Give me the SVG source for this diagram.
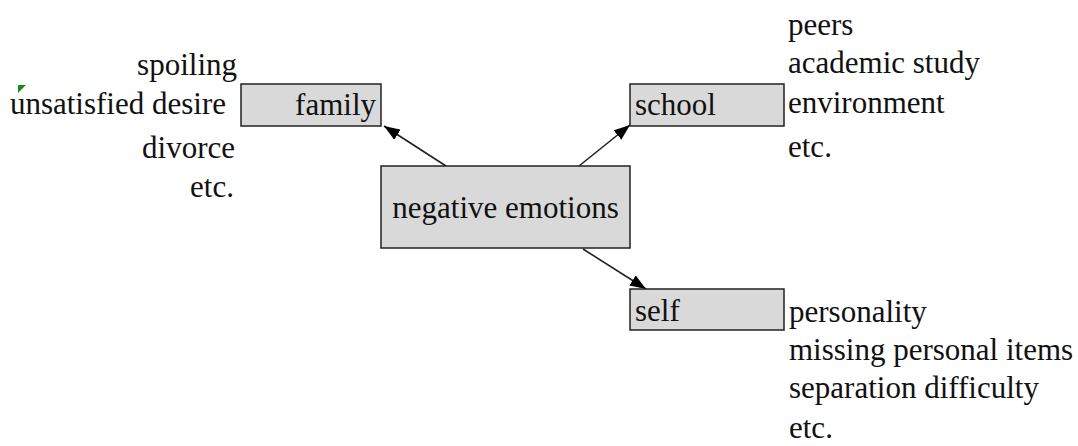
<svg xmlns="http://www.w3.org/2000/svg" width="1078" height="446" viewBox="0 0 1078 446">
<style>
.t{font-size:31px;fill:#111}
.box{fill:#d9d9d9;stroke:#222;stroke-width:1.5}
.conn{stroke:#222;stroke-width:1.6;fill:none;marker-end:url(#ah)}
.r{text-anchor:end}
.m{text-anchor:middle}
</style>
<defs>
<marker id="ah" viewBox="0 0 16 12" refX="16" refY="6" markerWidth="16" markerHeight="12" markerUnits="userSpaceOnUse" orient="auto">
<path d="M0,0 L16,6 L0,12 Z" fill="#000"/>
</marker>
</defs>
<rect width="1078" height="446" fill="#fff"/>
<g id="connectors">
<line class="conn" x1="446" y1="166" x2="384" y2="126"/>
<line class="conn" x1="579" y1="166" x2="630" y2="125"/>
<line class="conn" x1="583" y1="249" x2="646" y2="289"/>
</g>
<g font-family="Liberation Serif, Times New Roman, Tinos, DejaVu Serif, serif" class="t">
<g id="center">
<rect class="box" x="381" y="166" width="249" height="82"/>
<text class="m" x="505.5" y="218">negative emotions</text>
</g>
<g id="family">
<rect class="box" x="241" y="84" width="140" height="42"/>
<text class="r" x="376" y="115">family</text>
</g>
<g id="school">
<rect class="box" x="630" y="84" width="154" height="42"/>
<text x="635" y="115">school</text>
</g>
<g id="self">
<rect class="box" x="630" y="289" width="154" height="41"/>
<text x="635" y="321">self</text>
</g>
<g id="family-items">
<text class="r" x="237" y="75">spoiling</text>
<text class="r" x="226" y="114">unsatisfied desire</text>
<text class="r" x="235" y="158">divorce</text>
<text class="r" x="234" y="197">etc.</text>
<polygon points="18,85 26,85 18,93" fill="#1a8a1a"/>
</g>
<g id="school-items">
<text x="788" y="35">peers</text>
<text x="788" y="73">academic study</text>
<text x="788" y="113">environment</text>
<text x="788" y="157">etc.</text>
</g>
<g id="self-items">
<text x="789" y="322">personality</text>
<text x="789" y="360">missing personal items</text>
<text x="789" y="398">separation difficulty</text>
<text x="789" y="438">etc.</text>
</g>
</g>
</svg>
